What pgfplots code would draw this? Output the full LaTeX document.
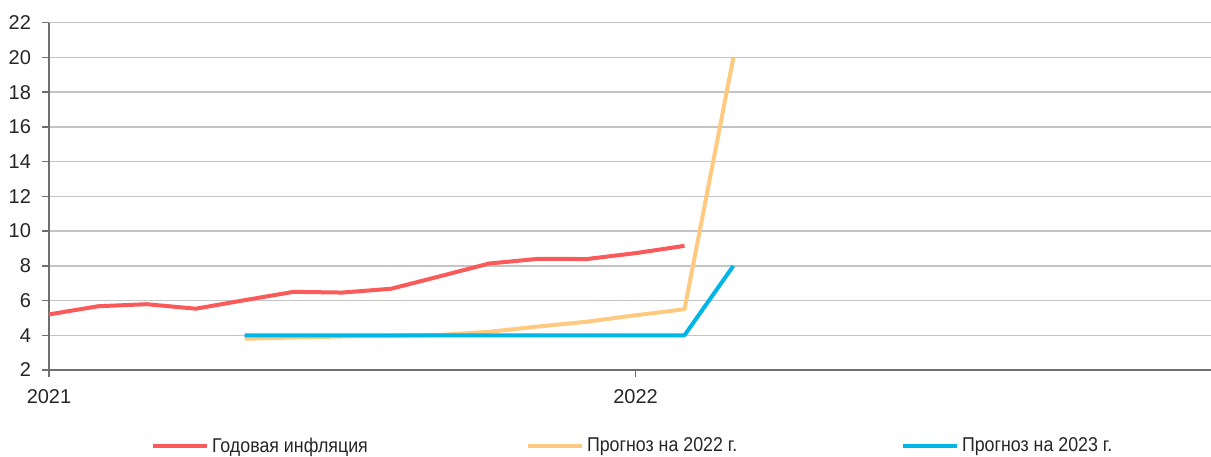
\documentclass[border=0pt]{standalone}
\usepackage{fontspec}
\setmainfont{Liberation Sans}
\newfontfamily\legfont{Liberation Sans}[FakeStretch=0.89]
\usepackage{pgfplots}
\pgfplotsset{compat=1.18}
\definecolor{cred}{HTML}{FA5A5A}
\definecolor{corange}{HTML}{FFCA80}
\definecolor{cblue}{HTML}{00B6E6}
\definecolor{axisgray}{HTML}{6E6E6E}
\definecolor{gridgray}{HTML}{C4C4C4}
\begin{document}
\begin{tikzpicture}
\path[use as bounding box] (-24.5pt,-43pt) rectangle (581pt,185pt);
\begin{axis}[
  scale only axis, width=581pt, height=173.65pt,
  xmin=0, xmax=23.77, ymin=2, ymax=22,
  axis x line=bottom, axis y line=left,
  axis line style={draw=axisgray, line width=1pt, -},
  xtick={0,12}, xticklabels={2021,2022},
  ytick={2,4,...,22},
  tick align=outside, major tick length=3.5pt,
  tick style={draw=axisgray, line width=0.75pt},
  ymajorgrids, grid style={draw=gridgray, line width=0.75pt},
  ticklabel style={font=\fontsize{10}{12}\selectfont, text=black!85},
  yticklabel style={xshift=-2pt},
  xticklabel style={yshift=-2.5pt},
  /pgf/number format/assume math mode=true,
  clip=false,
  legend columns=3,
  legend style={at={(axis description cs:0.0878,-0.220)}, anchor=west, draw=none, fill=none,
    inner sep=0pt, outer sep=0pt, column sep=0pt, row sep=0pt,
    nodes={inner sep=0pt, font=\legfont\fontsize{10}{12}\selectfont, text=black!85},
    /tikz/every even column/.append style={column sep=0pt}},
  legend image code/.code={\draw[#1] (0pt,0pt) -- (27pt,0pt);},
]
\addplot[cred, line width=2pt, line join=round] coordinates {
(0,5.2)(1,5.67)(2,5.79)(3,5.53)(4,6.02)(5,6.5)(6,6.46)(7,6.68)(8,7.4)(9,8.13)(10,8.4)(11,8.39)(12,8.73)(13,9.15)};
\addlegendentry{\makebox[158.5pt][l]{\hspace{1.5pt}Годовая инфляция}}
\addplot[corange, line width=2pt, line join=round] coordinates {
(4,3.8)(5,3.87)(6,3.93)(7,3.97)(8,4.02)(9,4.2)(10,4.5)(11,4.78)(12,5.15)(13,5.5)(14,20)};
\addlegendentry{\makebox[158.5pt][l]{\hspace{1.5pt}Прогноз на 2022 г.}}
\addplot[cblue, line width=2pt, line join=round] coordinates {
(4,4)(13,4)(14,8)};
\addlegendentry{\makebox[158.5pt][l]{\hspace{1.5pt}Прогноз на 2023 г.}}
\end{axis}
\end{tikzpicture}
\end{document}
